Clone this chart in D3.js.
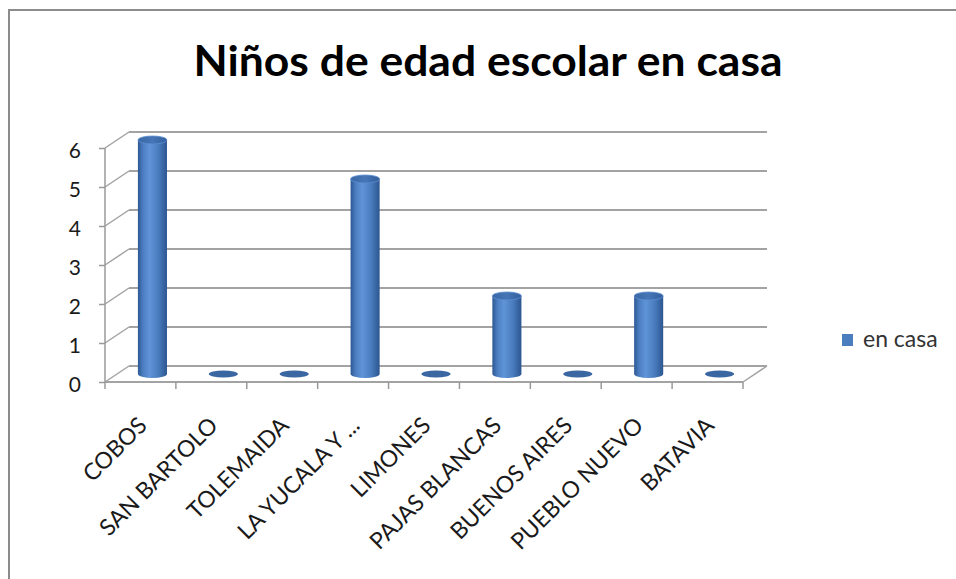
<!DOCTYPE html>
<html>
<head>
<meta charset="utf-8">
<script src="https://cdn.jsdelivr.net/npm/d3@7"></script>
<style>
  body { margin: 0; background: #fff; }
  svg text { font-family: Lato, "Open Sans", sans-serif; fill: #1a1a1a; }
  .yAxis path, .xAxis path { stroke: none; }
  .yAxis line { stroke: #9a9a9a; stroke-width: 1.5; }
  .xAxis line { stroke: none; }
</style>
</head>
<body>
<svg id="chart" width="956" height="579"></svg>
<script>
const title = 'Niños de edad escolar en casa'
const seriesName = 'en casa'
const categories = ['COBOS', 'SAN BARTOLO', 'TOLEMAIDA', 'LA YUCALA Y ...', 'LIMONES',
  'PAJAS BLANCAS', 'BUENOS AIRES', 'PUEBLO NUEVO', 'BATAVIA']
const enCasa = [6, 0, 0, 5, 0, 2, 0, 2, 0]
const yTicks = [0, 1, 2, 3, 4, 5, 6]

const plot = { left: 105, right: 743, top: 148, bottom: 382 }
const depth = { dx: 24, dy: -16 }
const barRatio = 0.41
const ry = 4

const svg = d3.select('#chart')

// chart frame
svg.append('rect')
  .attr('x', 9).attr('y', 10)
  .attr('width', 960).attr('height', 580)
  .attr('fill', '#fff')
  .attr('stroke', '#8c8c8c')
  .attr('stroke-width', 2)

const x = d3.scaleBand()
  .domain(categories)
  .range([plot.left, plot.right])
  .padding(0)

const y = d3.scaleLinear()
  .domain([0, d3.max(yTicks)])
  .range([plot.bottom, plot.top])

const defs = svg.append('defs')
const bodyGrad = defs.append('linearGradient')
  .attr('id', 'cyl-body')
  .attr('x1', 0).attr('y1', 0).attr('x2', 1).attr('y2', 0)
bodyGrad.selectAll('stop')
  .data([
    { offset: '0%', color: '#2d5894' },
    { offset: '18%', color: '#4c7fc2' },
    { offset: '40%', color: '#5f94d8' },
    { offset: '70%', color: '#4a7dbf' },
    { offset: '100%', color: '#2c5690' }
  ])
  .enter().append('stop')
  .attr('offset', d => d.offset)
  .attr('stop-color', d => d.color)

const topGrad = defs.append('linearGradient')
  .attr('id', 'cyl-top')
  .attr('x1', 0).attr('y1', 0).attr('x2', 1).attr('y2', 0)
topGrad.selectAll('stop')
  .data([
    { offset: '0%', color: '#3a68a6' },
    { offset: '50%', color: '#4676b6' },
    { offset: '100%', color: '#335f9c' }
  ])
  .enter().append('stop')
  .attr('offset', d => d.offset)
  .attr('stop-color', d => d.color)

// gridlines on back wall + left wall diagonals
const grid = svg.append('g').attr('class', 'grid')
grid.selectAll('.backLine')
  .data(yTicks)
  .enter().append('line')
  .attr('x1', plot.left + depth.dx)
  .attr('x2', plot.right + depth.dx)
  .attr('y1', d => y(d) + depth.dy)
  .attr('y2', d => y(d) + depth.dy)
  .attr('stroke', '#a3a3a3')
  .attr('stroke-width', 2)
grid.selectAll('.sideLine')
  .data(yTicks)
  .enter().append('line')
  .attr('x1', plot.left)
  .attr('y1', d => y(d))
  .attr('x2', plot.left + depth.dx)
  .attr('y2', d => y(d) + depth.dy)
  .attr('stroke', '#a3a3a3')
  .attr('stroke-width', 1.5)

// floor front edge and right diagonal
grid.append('line')
  .attr('x1', plot.left).attr('x2', plot.right)
  .attr('y1', y(0)).attr('y2', y(0))
  .attr('stroke', '#a3a3a3').attr('stroke-width', 2)
grid.append('line')
  .attr('x1', plot.right).attr('y1', y(0))
  .attr('x2', plot.right + depth.dx).attr('y2', y(0) + depth.dy)
  .attr('stroke', '#a3a3a3').attr('stroke-width', 1.5)

// category boundary ticks
grid.selectAll('.catTick')
  .data(categories.concat([null]))
  .enter().append('line')
  .attr('x1', (d, i) => i < categories.length ? x(d) : plot.right)
  .attr('x2', (d, i) => i < categories.length ? x(d) : plot.right)
  .attr('y1', y(0))
  .attr('y2', y(0) + 7)
  .attr('stroke', '#9a9a9a')
  .attr('stroke-width', 1.5)

// y axis
svg.append('g')
  .attr('class', 'yAxis')
  .attr('transform', `translate(${plot.left},0)`)
  .call(d3.axisLeft(y).tickValues(yTicks).tickSize(6).tickPadding(18).tickFormat(d3.format('d')))
  .call(g => g.selectAll('text')
    .attr('dy', '0.45em')
    .style('font-size', '21px'))
  .append('line')
  .attr('x1', 0).attr('x2', 0)
  .attr('y1', y(0)).attr('y2', y(d3.max(yTicks)))

// cylinders
const bw = x.bandwidth() * barRatio
const rx = bw / 2
const cx = d => x(d.cat) + x.bandwidth() / 2 + depth.dx / 2
const base = y(0) + depth.dy / 2
const data = categories.map((cat, i) => ({ cat, value: enCasa[i] }))

const bars = svg.append('g').attr('class', 'bars')
  .selectAll('g')
  .data(data)
  .enter().append('g')

bars.filter(d => d.value > 0)
  .append('path')
  .attr('fill', 'url(#cyl-body)')
  .attr('d', d => {
    const top = y(d.value) + depth.dy / 2
    const c = cx(d)
    return `M${c - rx},${top} L${c - rx},${base} A${rx},${ry} 0 0 0 ${c + rx},${base} L${c + rx},${top} Z`
  })

bars.append('ellipse')
  .attr('cx', cx)
  .attr('cy', d => y(d.value) + depth.dy / 2)
  .attr('rx', rx)
  .attr('ry', d => d.value > 0 ? ry : 3.5)
  .attr('fill', d => d.value > 0 ? 'url(#cyl-top)' : '#3a66a2')
  .attr('stroke', d => d.value > 0 ? '#5d8fd0' : 'none')
  .attr('stroke-width', 0.8)

// x axis labels
svg.append('g')
  .attr('class', 'xAxis')
  .attr('transform', `translate(0,${y(0)})`)
  .call(d3.axisBottom(x).tickSize(0))
  .call(g => g.selectAll('text')
    .attr('x', 0).attr('y', 0).attr('dy', 0)
    .attr('text-anchor', 'end')
    .attr('transform', 'translate(8,45) rotate(-45)')
    .style('font-size', '23px'))

// title
svg.append('text')
  .attr('x', 488)
  .attr('y', 76)
  .attr('text-anchor', 'middle')
  .attr('textLength', 589)
  .attr('lengthAdjust', 'spacingAndGlyphs')
  .style('font-size', '42px')
  .style('font-weight', 'bold')
  .style('fill', '#000')
  .text(title)

// legend
const legend = svg.append('g').attr('transform', 'translate(842,334)')
legend.append('rect')
  .attr('width', 11).attr('height', 12)
  .attr('fill', '#4a7ebf')
legend.append('text')
  .attr('x', 21).attr('y', 13)
  .style('font-size', '23px')
  .style('fill', '#333')
  .text(seriesName)
</script>
</body>
</html>
